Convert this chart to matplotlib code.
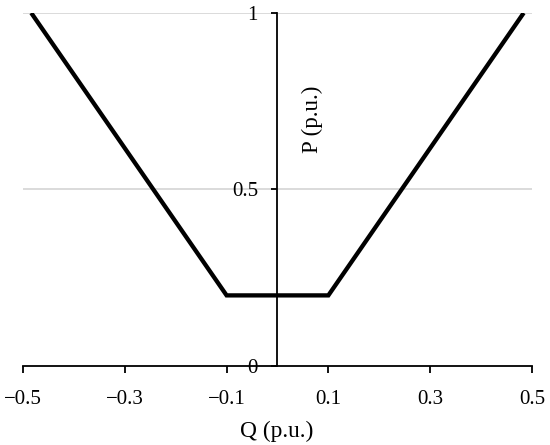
import matplotlib
matplotlib.use("Agg")
import matplotlib.pyplot as plt

q_values = [-0.484, -0.1, 0.1, 0.484]
p_values = [1.0, 0.2, 0.2, 1.0]
x_ticks = [-0.5, -0.3, -0.1, 0.1, 0.3, 0.5]
x_tick_labels = ["\u22120.5", "\u22120.3", "\u22120.1", "0.1", "0.3", "0.5"]
y_ticks = [0, 0.5, 1]
y_tick_labels = ["0", "0.5", "1"]

plt.rcParams['font.family'] = ['Liberation Serif', 'DejaVu Serif']

fig = plt.figure(figsize=(5.5, 4.45), dpi=100)
ax = fig.add_axes([0.042, 0.1775, 0.925, 0.7935])

for yv in [0.5, 1.0]:
    ax.axhline(yv, color='#d4d4d4', lw=1.2, zorder=0)

ax.plot(q_values, p_values, color='black', lw=3.1, solid_joinstyle='miter', solid_capstyle='butt', zorder=3)

ax.set_xlim(-0.5, 0.5)
ax.set_ylim(0, 1)
ax.spines['left'].set_position(('data', 0))
ax.spines['bottom'].set_position(('data', 0))
ax.spines['top'].set_visible(False)
ax.spines['right'].set_visible(False)
for s in ['left', 'bottom']:
    ax.spines[s].set_linewidth(1.3)
    ax.spines[s].set_color('black')

ax.set_xticks(x_ticks)
ax.set_xticklabels(x_tick_labels, fontsize=15)
ax.set_yticks(y_ticks)
ax.set_yticklabels(y_tick_labels, fontsize=15)
ax.tick_params(axis='x', direction='out', length=5, width=1.3, pad=12)
ax.tick_params(axis='y', direction='out', length=4, width=1.3, pad=10)

ax.text(0.069, 0.70, "P (p.u.)", rotation=90, ha='center', va='center', fontsize=16.5, transform=ax.transData)
fig.text(0.503, 0.031, "Q (p.u.)", ha='center', va='center', fontsize=16.8)

fig.savefig("out.png", dpi=100)
